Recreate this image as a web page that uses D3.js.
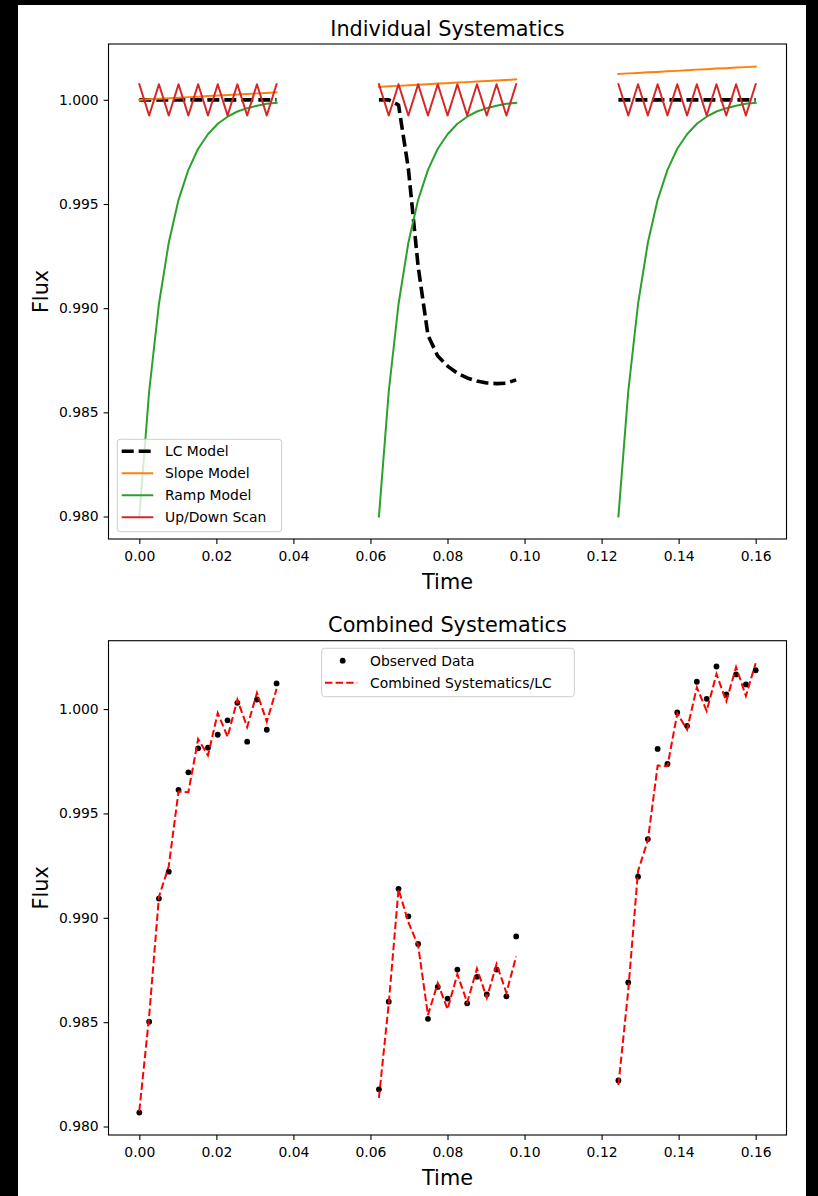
<!DOCTYPE html>
<html><head><meta charset="utf-8">
<script src="https://cdn.jsdelivr.net/npm/d3@7"></script>
<style>body{margin:0;background:#000;} svg{display:block;} text{font-family:"DejaVu Sans",sans-serif;}</style>
</head><body>
<svg id="chart" width="818" height="1196"></svg>
<script>
// ---------- data ----------
const timeVisits = [
  [0.00000,0.00255,0.00509,0.00764,0.01018,0.01273,0.01527,0.01782,0.02036,0.02291,0.02545,0.02800,0.03054,0.03309,0.03563],
  [0.06220,0.06475,0.06729,0.06984,0.07238,0.07493,0.07747,0.08002,0.08256,0.08511,0.08765,0.09020,0.09274,0.09529,0.09783],
  [0.12437,0.12692,0.12946,0.13201,0.13455,0.13710,0.13964,0.14219,0.14473,0.14728,0.14982,0.15237,0.15491,0.15746,0.16000]
];
const lcModel = [
  [1.00000,1.00000,1.00000,1.00000,1.00000,1.00000,1.00000,1.00000,1.00000,1.00000,1.00000,1.00000,1.00000,1.00000,1.00000],
  [1.00000,1.00000,0.99975,0.99670,0.99200,0.98870,0.98770,0.98722,0.98688,0.98665,0.98650,0.98641,0.98638,0.98640,0.98656],
  [1.00000,1.00000,1.00000,1.00000,1.00000,1.00000,1.00000,1.00000,1.00000,1.00000,1.00000,1.00000,1.00000,1.00000,1.00000]
];
const slopeModel = [
  [1.00000,1.00003,1.00005,1.00008,1.00010,1.00013,1.00015,1.00018,1.00021,1.00023,1.00026,1.00028,1.00031,1.00033,1.00036],
  [1.00062,1.00065,1.00067,1.00070,1.00072,1.00075,1.00078,1.00080,1.00083,1.00085,1.00088,1.00090,1.00093,1.00095,1.00098],
  [1.00124,1.00127,1.00129,1.00132,1.00134,1.00137,1.00139,1.00142,1.00145,1.00147,1.00150,1.00152,1.00155,1.00157,1.00160]
];
const rampVisit = [0.98000,0.98600,0.99020,0.99314,0.99520,0.99664,0.99765,0.99835,0.99885,0.99919,0.99944,0.99960,0.99972,0.99981,0.99986];
const rampModel = [rampVisit, rampVisit, rampVisit];
const scanVisit = [1.00075,0.99925,1.00075,0.99925,1.00075,0.99925,1.00075,0.99925,1.00075,0.99925,1.00075,0.99925,1.00075,0.99925,1.00075];
const scanModel = [scanVisit, scanVisit, scanVisit];
const observedData = [
  [0.98067,0.98502,0.99092,0.99221,0.99613,0.99697,0.99812,0.99815,0.99877,0.99946,1.00030,0.99844,1.00046,0.99901,1.00123],
  [0.98178,0.98598,0.99139,0.99007,0.98875,0.98516,0.98669,0.98613,0.98752,0.98590,0.98717,0.98633,0.98752,0.98624,0.98911],
  [0.98221,0.98690,0.99197,0.99377,0.99809,0.99737,0.99984,0.99920,1.00131,1.00049,1.00204,1.00070,1.00166,1.00118,1.00186]
];
const combinedModel = [
  [0.98075,0.98528,0.99100,0.99247,0.99605,0.99602,0.99856,0.99778,0.99981,0.99867,1.00045,0.99914,1.00078,0.99940,1.00097],
  [0.98137,0.98590,0.99137,0.98979,0.98867,0.98534,0.98687,0.98562,0.98730,0.98594,0.98757,0.98616,0.98778,0.98641,0.98815],
  [0.98199,0.98652,0.99224,0.99371,0.99729,0.99726,0.99979,0.99902,1.00104,0.99991,1.00168,1.00037,1.00201,1.00063,1.00220]
];
const xTickValues = [0.00,0.02,0.04,0.06,0.08,0.10,0.12,0.14,0.16];
const yTickValues = [0.980,0.985,0.990,0.995,1.000];
const upperLegendLabels = ["LC Model","Slope Model","Ramp Model","Up/Down Scan"];
const lowerLegendLabels = ["Observed Data","Combined Systematics/LC"];

// ---------- drawing ----------
const svg = d3.select('#chart');
svg.append('rect').attr('x',18).attr('y',5).attr('width',788).attr('height',1191).attr('fill','#fff');

const FS = 13.9, FL = 20.8;
function pad(ext){ const r = ext[1]-ext[0]; return [ext[0]-0.05*r, ext[1]+0.05*r]; }
const allTimes = timeVisits.flat();
const xDomain = pad(d3.extent(allTimes));

function makePanel(cfg){
  const g = svg.append('g');
  const x = d3.scaleLinear().domain(xDomain).range([cfg.left, cfg.right]);
  const y = d3.scaleLinear().domain(pad(d3.extent(cfg.values.flat(2)))).range([cfg.bottom, cfg.top]);
  const xa = g.append('g').attr('transform',`translate(0,${cfg.bottom})`)
    .call(d3.axisBottom(x).tickValues(xTickValues).tickFormat(d3.format('.2f')).tickSize(4.9).tickPadding(7.6));
  const ya = g.append('g').attr('transform',`translate(${cfg.left},0)`)
    .call(d3.axisLeft(y).tickValues(yTickValues).tickFormat(d3.format('.3f')).tickSize(4.9).tickPadding(4.9));
  [xa,ya].forEach(a=>{ a.select('.domain').remove(); a.selectAll('line').attr('stroke','#000').attr('stroke-width',1.1);
    a.selectAll('text').attr('font-size',FS).attr('fill','#000').attr('font-family','DejaVu Sans'); });
  g.append('text').attr('x',(cfg.left+cfg.right)/2).attr('y',cfg.top-8.3).attr('text-anchor','middle')
    .attr('font-size',FL).text(cfg.title);
  g.append('text').attr('x',(cfg.left+cfg.right)/2).attr('y',cfg.bottom+50).attr('text-anchor','middle')
    .attr('font-size',FL).text('Time');
  g.append('text').attr('transform',`translate(48.4,${(cfg.top+cfg.bottom)/2}) rotate(-90)`).attr('text-anchor','middle')
    .attr('font-size',FL).text('Flux');
  return {g,x,y};
}

const L = 108.5, R = 786.5;
// upper
const up = makePanel({left:L,right:R,top:44,bottom:539,title:'Individual Systematics',
  values:[lcModel,slopeModel,rampModel,scanModel]});
const upperSeries = [
  {data:lcModel,color:'#000',w:3.6,dash:'12,5'},
  {data:slopeModel,color:'#ff7f0e',w:2,dash:null},
  {data:rampModel,color:'#2ca02c',w:2,dash:null},
  {data:scanModel,color:'#d62728',w:2,dash:null}
];
upperSeries.forEach(s=>{
  timeVisits.forEach((tv,vi)=>{
    const line = d3.line().x((d,i)=>up.x(tv[i])).y(d=>up.y(d));
    up.g.append('path').datum(s.data[vi]).attr('d',line).attr('fill','none')
      .attr('stroke',s.color).attr('stroke-width',s.w).attr('stroke-dasharray',s.dash)
      .attr('stroke-linejoin','round').attr('stroke-linecap', s.dash? 'butt':'square');
  });
});
up.g.append('rect').attr('x',L).attr('y',44).attr('width',R-L).attr('height',539-44)
  .attr('fill','none').attr('stroke','#000').attr('stroke-width',1.1);
// upper legend
{
  const lg = up.g.append('g');
  lg.append('rect').attr('x',117.3).attr('y',439.3).attr('width',164.4).attr('height',92.4).attr('rx',3)
    .attr('fill','#fff').attr('fill-opacity',0.8).attr('stroke','#ccc').attr('stroke-width',1);
  upperLegendLabels.forEach((lab,i)=>{
    const s = upperSeries[i]; const yy = 451.3 + i*22;
    lg.append('line').attr('x1',121.7).attr('x2',153.3).attr('y1',yy).attr('y2',yy)
      .attr('stroke',s.color).attr('stroke-width',s.w).attr('stroke-dasharray',s.dash);
    lg.append('text').attr('x',165).attr('y',yy).attr('dy','0.35em').attr('font-size',FS).text(lab);
  });
}

// lower
const lo = makePanel({left:L,right:R,top:640.7,bottom:1135,title:'Combined Systematics',
  values:[observedData,combinedModel]});
timeVisits.forEach((tv,vi)=>{
  lo.g.append('g').selectAll('circle').data(observedData[vi]).join('circle')
    .attr('cx',(d,i)=>lo.x(tv[i])).attr('cy',d=>lo.y(d)).attr('r',2.9).attr('fill','#000');
});
timeVisits.forEach((tv,vi)=>{
  const line = d3.line().x((d,i)=>lo.x(tv[i])).y(d=>lo.y(d));
  lo.g.append('path').datum(combinedModel[vi]).attr('d',line).attr('fill','none')
    .attr('stroke','#ff0000').attr('stroke-width',2).attr('stroke-dasharray','7.4,3.2');
});
lo.g.append('rect').attr('x',L).attr('y',640.7).attr('width',R-L).attr('height',1135-640.7)
  .attr('fill','none').attr('stroke','#000').attr('stroke-width',1.1);
{
  const lg = lo.g.append('g');
  lg.append('rect').attr('x',321.7).attr('y',648.3).attr('width',252.6).attr('height',48.4).attr('rx',3)
    .attr('fill','#fff').attr('fill-opacity',0.8).attr('stroke','#ccc').attr('stroke-width',1);
  lg.append('circle').attr('cx',342.7).attr('cy',660.7).attr('r',2.9).attr('fill','#000');
  lg.append('line').attr('x1',325).attr('x2',357.3).attr('y1',682.7).attr('y2',682.7)
    .attr('stroke','#ff0000').attr('stroke-width',2).attr('stroke-dasharray','7.4,3.2');
  lowerLegendLabels.forEach((lab,i)=>{
    lg.append('text').attr('x',370).attr('y',660.7+i*22).attr('dy','0.35em').attr('font-size',FS).text(lab);
  });
}
</script>
</body></html>
